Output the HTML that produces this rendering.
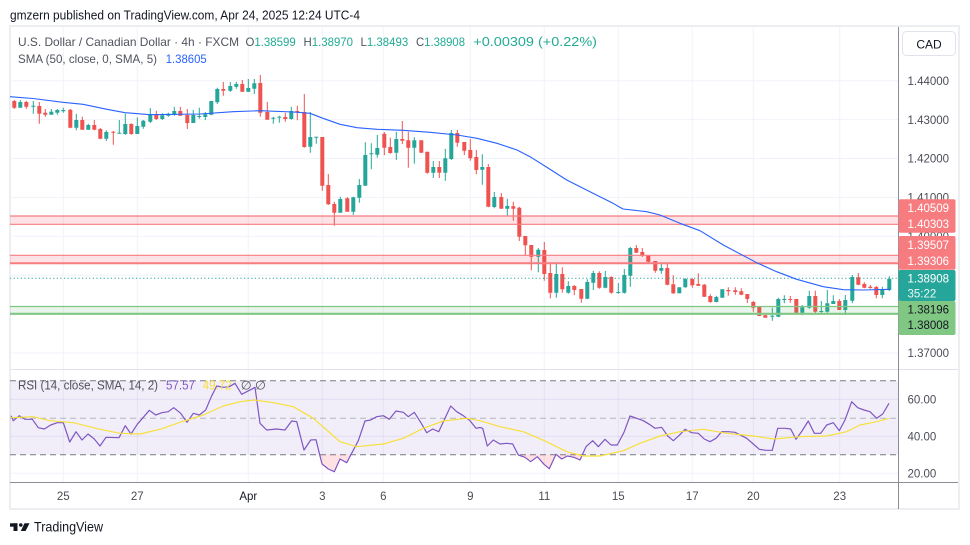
<!DOCTYPE html>
<html><head><meta charset="utf-8"><style>
html,body{margin:0;padding:0;background:#fff;width:970px;height:545px;overflow:hidden}
svg{display:block}
text{font-family:"Liberation Sans",sans-serif}
</style></head><body>
<svg width="970" height="545" viewBox="0 0 970 545" xmlns="http://www.w3.org/2000/svg">
<rect width="970" height="545" fill="#fff"/>
<text x="10" y="19.5" font-size="12.5" fill="#131722" textLength="350" lengthAdjust="spacingAndGlyphs">gmzern published on TradingView.com, Apr 24, 2025 12:24 UTC-4</text>
<!-- frame -->
<rect x="10" y="26" width="949" height="483" fill="none" stroke="#eceef2" stroke-width="2"/>
<!-- grid -->
<g stroke="#f0f3fa" stroke-width="1">
<path d="M10 80.7H898M10 119.6H898M10 158.5H898M10 197.4H898M10 236.3H898M10 275.2H898M10 314.1H898M10 353H898"/>
<path d="M63.3 27V482M137.3 27V482M248.3 27V482M322.3 27V482M383.3 27V482M470.3 27V482M544.3 27V482M618.3 27V482M692.3 27V482M753.3 27V482M839.7 27V482"/>
</g>
<!-- RSI band -->
<rect x="10" y="380.8" width="888" height="74" fill="#7e57c2" fill-opacity="0.1"/>
<g stroke="#7e57c2" stroke-opacity="0.12"><path d="M10 399.3H898M10 436.3H898"/></g>
<path d="M10 473.3H898" stroke="#f0f3fa"/>
<g fill="none" stroke-width="1">
<path d="M10 380.8H898M10 454.8H898" stroke="#787b86" stroke-dasharray="6,4"/>
<path d="M10 418.3H898" stroke="#b2b5be" stroke-dasharray="6,4"/>
</g>
<!-- oversold fill -->
<path d="M318.5 454.8L322 464L328.3 469L334.3 471.7L340 459L346.7 462.7L350.3 454.8Z" fill="#f23645" fill-opacity="0.15"/>
<path d="M518.2 454.8L525 457.3L530.7 461.7L537.3 456.7L544 464.3L549.3 468.7L556 454.3L561.7 459L567.3 456L574 457.3L580 460L583.7 454.8Z" fill="#f23645" fill-opacity="0.15"/>
<!-- RSI lines -->
<path fill="none" stroke="#7e57c2" stroke-width="1.2" stroke-linejoin="round" d="M11 415.7L13.3 420.7L19.3 415.7L25 419.3L32.3 419.3L38.3 427.7L44.3 429L50.7 425L57.3 422.7L63.3 422.7L69.7 442L76 431.7L82 440L88 434L94.3 439L100 446L106 437.3L119 437.7L125.3 425.7L131 434L137.3 424.3L149.3 410.3L155.7 415L162 412.7L168.3 411.7L173.7 407.7L180.7 413.3L187 422.3L193.3 413.3L199.3 415L205.7 410L211.3 396.7L216.7 386L223.3 387.3L229.3 386.7L235 383.3L241.7 394.3L253.3 388.3L255 387.3L260 423.3L266.7 430L276.7 429L285 430L291.7 421L296.7 421.7L304 450L310.7 440L316 439.7L322 464L328.3 469L334.3 471.7L340 459L346.7 462.7L358.3 440.7L365 421L370.7 420L376.7 416.7L383.3 415.7L389.3 419.3L396 411L403.3 412.3L408.3 416.7L414.3 412.3L420.7 422.3L426.7 432.7L432.7 429L438.7 431.7L450.7 406L456.7 411.7L463.3 415.7L470 420.7L476 428.3L480 427.5L482.7 428.3L487.3 446L493.3 440L500 444L506.7 443.3L512.7 444L518.3 455L525 457.3L530.7 461.7L537.3 456.7L544 464.3L549.3 468.7L556 454.3L561.7 459L567.3 456L574 457.3L580 460L586 446.7L592.7 440.7L598.3 446.7L605 439.3L611 445L617.3 445L624 432.3L630 416L636.7 418.3L643.3 420.7L649.3 424.3L655 428.3L661.7 427.3L667.7 436L673.3 440.7L679.3 435.3L685 429.3L691.7 432.7L698.3 433.3L704.3 439L710 441.7L716 438.3L721.7 431.7L728.3 431.7L735 432.3L746.7 438.3L753.3 444L759.3 449.3L766 450.3L772.3 450.3L777.7 428.3L785 428.3L790.7 429L796 439.3L802 431L808.3 421L814.3 433.3L820.7 433.3L826.7 425L833.3 422.7L839.3 430.7L845 420L851.7 401.7L857.7 407.7L864 410L870 411.7L876.7 418.3L882.7 414L889 403.3"/>
<path fill="none" stroke="#f7e03c" stroke-width="1.2" stroke-linejoin="round" d="M11 417.7L33.3 416.7L50 420.7L73.3 422.7L100 429.3L120 433.3L140 434L160 429.3L180 422.3L203.3 415L223.3 406L240 401.7L255 400L273.3 402.7L293.3 406.7L313.3 418.3L326.7 430L340 441.7L356.7 446.7L383.3 444L403.3 438.3L423.3 428.3L443.3 421L466.7 418.3L480 420.7L500 426.7L523.3 431.7L546.7 441.7L566.7 451.7L583.3 456L600 456L623.3 450.7L640 443.3L660 436L680 431.7L703.3 429.3L726.7 433.3L753.3 436L773.3 439L800 436.7L826.7 436L846.7 431.7L860 425L876.7 421.7L889 418.3"/>
<!-- candles green -->
<path fill="none" stroke="#26a69a" stroke-width="1" d="M20.3 100V107.7 M33.3 101V113.7 M51.3 109V114.7 M57.3 109V114.7 M63.3 107.7V112.7 M76.3 113.7V130.3 M88.3 123.7V129.7 M106.3 130.3V141 M119.3 120V133.7 M125.3 113.7V135 M137.3 117.3V134 M143.3 120V128.7 M150.3 108V123 M162.3 113.3V120 M168.3 112.7V116.7 M174.3 106.7V115.7 M193.3 110V123 M199.3 107.7V118.7 M205.3 112V120 M211.3 101V115.3 M217.3 87.7V104 M230.3 82V92 M236.3 82V88.7 M248.3 79V92 M254.3 79V94 M273.3 116.7V123.7 M279.3 115.7V122.7 M291.3 106.7V119.7 M310.3 112V152.7 M316.3 136.7V143.7 M340.3 196.7V212.7 M353.3 196.7V215 M359.3 179V202.7 M365.3 142.3V185.7 M371.3 143.3V169.3 M377.3 135V157.7 M396.3 131.7V160 M414.3 137.3V163.7 M433.3 161V178 M445.3 148.7V180.7 M451.3 130V160 M482.3 154.3V184.7 M494.3 192V208.3 M507.3 198.7V216 M538.3 248V272.3 M556.3 262.3V297.7 M568.3 281.3V293.7 M587.3 279.3V299.3 M593.3 270.7V290 M605.3 271V288.3 M618.3 283V293.7 M624.3 269V293.7 M630.3 247V286.7 M661.3 262.7V273.7 M679.3 287.3V293.3 M685.3 278.3V287.7 M716.3 295.7V302.3 M722.3 289.3V297.7 M772.3 307.7V320.7 M778.3 297.7V317.3 M784.3 295.3V303.3 M802.3 305V315.3 M809.3 290.7V308.7 M821.3 301V314.3 M827.3 290V312.7 M833.3 295.3V304 M845.3 295V315 M852.3 275V303.3 M882.3 286.7V298.3 M889.3 276.3V291"/>
<path fill="#26a69a" d="M18.3 102h4V107.7h-4zM31.3 105.7h4V106.7h-4zM49.3 111.7h4V114.7h-4zM55.3 110h4V112.7h-4zM61.3 110h4V111.3h-4zM74.3 120h4V127.7h-4zM86.3 125h4V129.7h-4zM104.3 132h4V138.7h-4zM117.3 132.7h4V133.7h-4zM123.3 124h4V134h-4zM135.3 126h4V134h-4zM141.3 120.7h4V126.7h-4zM148.3 114.3h4V121.7h-4zM160.3 115.3h4V119h-4zM166.3 113.7h4V115.7h-4zM172.3 111h4V114.7h-4zM191.3 115h4V123h-4zM197.3 116h4V117h-4zM203.3 114.3h4V117h-4zM209.3 101h4V114.7h-4zM215.3 89h4V102.3h-4zM228.3 86h4V90.7h-4zM234.3 84h4V86.7h-4zM246.3 88h4V91.7h-4zM252.3 83.3h4V88.7h-4zM271.3 117.7h4V118.7h-4zM277.3 116.7h4V117.7h-4zM289.3 111h4V119h-4zM308.3 137h4V146.7h-4zM314.3 136.7h4V137.7h-4zM338.3 199h4V212.7h-4zM351.3 197.3h4V211.7h-4zM357.3 185h4V197.7h-4zM363.3 155h4V185.7h-4zM369.3 153.3h4V154.3h-4zM375.3 148h4V154.7h-4zM394.3 139h4V152.7h-4zM412.3 140.3h4V147.7h-4zM431.3 167h4V172.7h-4zM443.3 158.3h4V172.7h-4zM449.3 133h4V159h-4zM480.3 167h4V169.7h-4zM492.3 197h4V207h-4zM505.3 206h4V208.7h-4zM536.3 249.7h4V256.7h-4zM554.3 274h4V292.7h-4zM566.3 286h4V292.7h-4zM585.3 282h4V298.7h-4zM591.3 273h4V282.7h-4zM603.3 277h4V287.7h-4zM616.3 292h4V293h-4zM622.3 275h4V292.7h-4zM628.3 248h4V275.7h-4zM659.3 268h4V270.7h-4zM677.3 287.3h4V293.3h-4zM683.3 279h4V287.3h-4zM714.3 297h4V302h-4zM720.3 289.3h4V297.7h-4zM770.3 315.7h4V316.7h-4zM776.3 299h4V316.7h-4zM782.3 299h4V300h-4zM800.3 307.3h4V312.7h-4zM807.3 296h4V307.7h-4zM819.3 311h4V312h-4zM825.3 303.3h4V311.7h-4zM831.3 301h4V304h-4zM843.3 300h4V310h-4zM850.3 277h4V300.7h-4zM880.3 290h4V295h-4zM887.3 278.7h4V290h-4z"/>
<!-- candles red -->
<path fill="none" stroke="#ef5350" stroke-width="1" d="M14.3 100V109 M26.3 101V108.7 M39.3 102V123.7 M45.3 109V116.7 M70.3 109V128.3 M82.3 116.7V129.7 M94.3 120V130.3 M100.3 128V139.3 M113.3 131V144.7 M131.3 123.3V134.7 M156.3 110.7V120 M180.3 106.7V115.7 M187.3 109V129 M223.3 82V95.7 M242.3 80V92 M260.3 75V116.7 M267.3 102V119.7 M285.3 112.7V121.7 M297.3 105.7V120.3 M304.3 94V147.7 M322.3 137V190.7 M328.3 174V205 M334.3 201.7V225.7 M347.3 197.3V211.7 M384.3 132V155.3 M390.3 137.7V153.7 M402.3 121V144 M408.3 131.7V167.7 M421.3 140.3V152.7 M427.3 151.7V173.7 M439.3 161V178 M457.3 130V146.7 M464.3 142V155 M470.3 139V160.7 M476.3 150V174.3 M488.3 164V207.3 M501.3 193V208.7 M513.3 201.7V220.7 M519.3 206.7V241 M525.3 236V255.3 M531.3 245V270.3 M544.3 242V280.7 M550.3 263.3V298.3 M562.3 267.3V292.7 M574.3 285V295.3 M581.3 289V302.7 M599.3 271.3V288.7 M611.3 276.3V293.7 M636.3 245V252.7 M642.3 248V257 M648.3 255.3V262.7 M655.3 261V272.7 M667.3 264V285.3 M673.3 275.3V294 M692.3 278.3V287.7 M698.3 273.3V286 M704.3 284V297 M710.3 294.3V302.7 M728.3 287.3V295.7 M735.3 287.3V294.7 M741.3 288.3V295.3 M747.3 294V303 M753.3 301V311.7 M759.3 306V316 M765.3 313.3V317.7 M790.3 296V302.7 M796.3 299V312.7 M815.3 290.7V314.3 M839.3 299V310 M858.3 273V285.3 M864.3 282.3V288.3 M870.3 285V288.7 M876.3 286V298.3"/>
<path fill="#ef5350" d="M12.3 101h4V107.7h-4zM24.3 102h4V106.7h-4zM37.3 106h4V113.7h-4zM43.3 112.7h4V114.7h-4zM68.3 109.7h4V127.7h-4zM80.3 120h4V129.7h-4zM92.3 125h4V129.7h-4zM98.3 129h4V138.7h-4zM111.3 131.7h4V132.7h-4zM129.3 124h4V134h-4zM154.3 114h4V119h-4zM178.3 111h4V115.7h-4zM185.3 115h4V123h-4zM221.3 89h4V90.7h-4zM240.3 84h4V91.7h-4zM258.3 83h4V112.7h-4zM265.3 112h4V119.7h-4zM283.3 117h4V119h-4zM295.3 111h4V112.3h-4zM302.3 112h4V147h-4zM320.3 137h4V185.7h-4zM326.3 185h4V204.3h-4zM332.3 204h4V212.7h-4zM345.3 198.3h4V211.7h-4zM382.3 133.7h4V147.7h-4zM388.3 147h4V153h-4zM400.3 139h4V140.7h-4zM406.3 140.3h4V147.7h-4zM419.3 140.3h4V152.7h-4zM425.3 151.7h4V172.7h-4zM437.3 167h4V172.7h-4zM455.3 133h4V142.7h-4zM462.3 142h4V150.7h-4zM468.3 150h4V158.3h-4zM474.3 157h4V170h-4zM486.3 167h4V206.7h-4zM499.3 197h4V208.7h-4zM511.3 206.3h4V208.7h-4zM517.3 207.7h4V236.7h-4zM523.3 236h4V245.3h-4zM529.3 245h4V256.7h-4zM542.3 250h4V274h-4zM548.3 273h4V292.7h-4zM560.3 274h4V289.3h-4zM572.3 286h4V290h-4zM579.3 289h4V298.7h-4zM597.3 273h4V287.7h-4zM609.3 277h4V292.7h-4zM634.3 248h4V252.7h-4zM640.3 252h4V255.7h-4zM646.3 255.3h4V261.7h-4zM653.3 261h4V270.7h-4zM665.3 268h4V284.7h-4zM671.3 284.3h4V293.3h-4zM690.3 279h4V285.3h-4zM696.3 284h4V285.7h-4zM702.3 284.7h4V296.7h-4zM708.3 296h4V302h-4zM726.3 290h4V291.3h-4zM733.3 290.3h4V292h-4zM739.3 291.3h4V294.7h-4zM745.3 294h4V299h-4zM751.3 302h4V307.7h-4zM757.3 306.7h4V316h-4zM763.3 315.3h4V317.7h-4zM788.3 299h4V300h-4zM794.3 299h4V312.7h-4zM813.3 296h4V311.7h-4zM837.3 301h4V310h-4zM856.3 277.3h4V284.7h-4zM862.3 284h4V287.7h-4zM868.3 286.7h4V288h-4zM874.3 287h4V295h-4z"/>
<!-- zones -->
<rect x="10" y="216" width="888" height="8.3" fill="#f23645" fill-opacity="0.14"/>
<path d="M10 216H898M10 224.3H898" stroke="#f77c80" stroke-width="1.2"/>
<rect x="10" y="255.3" width="888" height="7.8" fill="#f23645" fill-opacity="0.14"/>
<path d="M10 255.3H898" stroke="#f77c80" stroke-width="1.2"/>
<path d="M10 263.3H898" stroke="#f77c80" stroke-width="2"/>
<rect x="10" y="306.5" width="888" height="7" fill="#4caf50" fill-opacity="0.12"/>
<path d="M10 306.5H898" stroke="#81c784" stroke-width="1.2"/>
<path d="M10 313.8H898" stroke="#81c784" stroke-width="2.2"/>
<!-- current price dotted -->
<path d="M10 278.3H898" stroke="#26a69a" stroke-width="1" stroke-dasharray="1.2,2.4"/>
<!-- SMA -->
<path fill="none" stroke="#2962ff" stroke-width="1.1" stroke-linejoin="round" d="M10 96.7L33 98.5L63 102.3L83 104.3L107 109.3L125 112.7L150 114.7L200 114L233 111.7L260 110.7L293 112L310 113.3L323 118.3L340 124.3L357 127.7L377 129.3L403 130.3L430 132.3L457 135L477 138.3L497 143.3L517 150L530 156.7L548 168L566.7 180L590 191.7L613 203.3L623 209L646.7 211.7L660 215L680 223.3L700 230.7L723.3 245L756.7 262.7L776.7 271.7L796.7 279.3L823.3 286.7L843.3 289.7L863.3 290L890 289.3"/>
<!-- separators / axes -->
<path d="M10 369.5H958" stroke="#e0e3eb" stroke-width="1"/>
<path d="M898.5 27V509" stroke="#8a8d96" stroke-width="1"/>
<path d="M10 482.5H958" stroke="#8a8d96" stroke-width="1"/>
<!-- legend -->
<g font-size="12">
<text x="18" y="46" fill="#50535e" textLength="221" lengthAdjust="spacingAndGlyphs">U.S. Dollar / Canadian Dollar · 4h · FXCM</text>
<text x="245.5" y="46" textLength="50.2" lengthAdjust="spacingAndGlyphs"><tspan fill="#50535e">O</tspan><tspan fill="#22ab94">1.38599</tspan></text>
<text x="303.5" y="46" textLength="49.5" lengthAdjust="spacingAndGlyphs"><tspan fill="#50535e">H</tspan><tspan fill="#22ab94">1.38970</tspan></text>
<text x="360.5" y="46" textLength="47.7" lengthAdjust="spacingAndGlyphs"><tspan fill="#50535e">L</tspan><tspan fill="#22ab94">1.38493</tspan></text>
<text x="416" y="46" textLength="49" lengthAdjust="spacingAndGlyphs"><tspan fill="#50535e">C</tspan><tspan fill="#22ab94">1.38908</tspan></text>
<text x="473.3" y="46" fill="#22ab94" font-size="12.5" textLength="123.7" lengthAdjust="spacingAndGlyphs">+0.00309 (+0.22%)</text>
<text x="18" y="63" fill="#50535e" textLength="139" lengthAdjust="spacingAndGlyphs">SMA (50, close, 0, SMA, 5)</text>
<text x="165.7" y="63" fill="#2962ff" textLength="41" lengthAdjust="spacingAndGlyphs">1.38605</text>
</g>
<g font-size="12.5">
<text x="18" y="389.5" fill="#50535e" textLength="140" lengthAdjust="spacingAndGlyphs">RSI (14, close, SMA, 14, 2)</text>
<text x="166" y="389.5" fill="#7e57c2" textLength="29" lengthAdjust="spacingAndGlyphs">57.57</text>
<text x="202.7" y="389.5" fill="#f7e03c" textLength="29" lengthAdjust="spacingAndGlyphs">49.72</text>
<text x="240.7" y="389.5" fill="#50535e">∅</text>
<text x="255" y="389.5" fill="#50535e">∅</text>
</g>
<!-- CAD box -->
<rect x="902.5" y="31.5" width="53" height="24" rx="4" fill="#fff" stroke="#e0e3eb"/>
<text x="929" y="48.3" font-size="12" fill="#131722" text-anchor="middle">CAD</text>
<!-- price axis labels -->
<g font-size="11.5" fill="#4a4d57">
<text x="907.5" y="85">1.44000</text>
<text x="907.5" y="123.8">1.43000</text>
<text x="907.5" y="162.7">1.42000</text>
<text x="907.5" y="201.6">1.41000</text>
<text x="907.5" y="240.5">1.40000</text>
<text x="907.5" y="357">1.37000</text>
<text x="907.5" y="403.5">60.00</text>
<text x="907.5" y="440.5">40.00</text>
<text x="907.5" y="477.5">20.00</text>
</g>
<!-- price boxes -->
<rect x="898.5" y="199.3" width="57" height="33.4" rx="2" fill="#f77c80"/>
<rect x="898.5" y="236" width="57" height="33.8" rx="2" fill="#f77c80"/>
<rect x="898.5" y="270" width="57" height="31" rx="2" fill="#26a69a"/>
<rect x="898.5" y="301" width="57" height="34" rx="2" fill="#81c784"/>
<g font-size="11.5">
<text x="907.5" y="211.9" fill="#fff">1.40509</text>
<text x="907.5" y="228.2" fill="#fff">1.40303</text>
<text x="907.5" y="249.2" fill="#fff">1.39507</text>
<text x="907.5" y="264.9" fill="#fff">1.39306</text>
<text x="907.5" y="282.5" fill="#fff">1.38908</text>
<text x="907.5" y="297.5" fill="#fff" fill-opacity="0.9">35:22</text>
<text x="907.5" y="313.5" fill="#131722">1.38196</text>
<text x="907.5" y="329.2" fill="#131722">1.38008</text>
</g>
<!-- time axis -->
<g font-size="11.5" fill="#4a4d57" text-anchor="middle">
<text x="63.3" y="500">25</text>
<text x="137.3" y="500">27</text>
<text x="248.3" y="500" fill="#131722">Apr</text>
<text x="322.3" y="500">3</text>
<text x="383.3" y="500">6</text>
<text x="470.3" y="500">9</text>
<text x="544.3" y="500">11</text>
<text x="618.3" y="500">15</text>
<text x="692.3" y="500">17</text>
<text x="753.3" y="500">20</text>
<text x="839.7" y="500">23</text>
</g>
<!-- footer logo -->
<g fill="#131722">
<rect x="10" y="523.3" width="7.5" height="3.4"/>
<rect x="13.5" y="523.3" width="4" height="7.7"/>
<circle cx="20.8" cy="525" r="1.8"/>
<polygon points="24.5,523.3 29.5,523.3 25.6,531 20.8,531"/>
</g>
<text x="34" y="531.5" font-size="14" fill="#131722" textLength="69" lengthAdjust="spacingAndGlyphs">TradingView</text>
</svg>
</body></html>
